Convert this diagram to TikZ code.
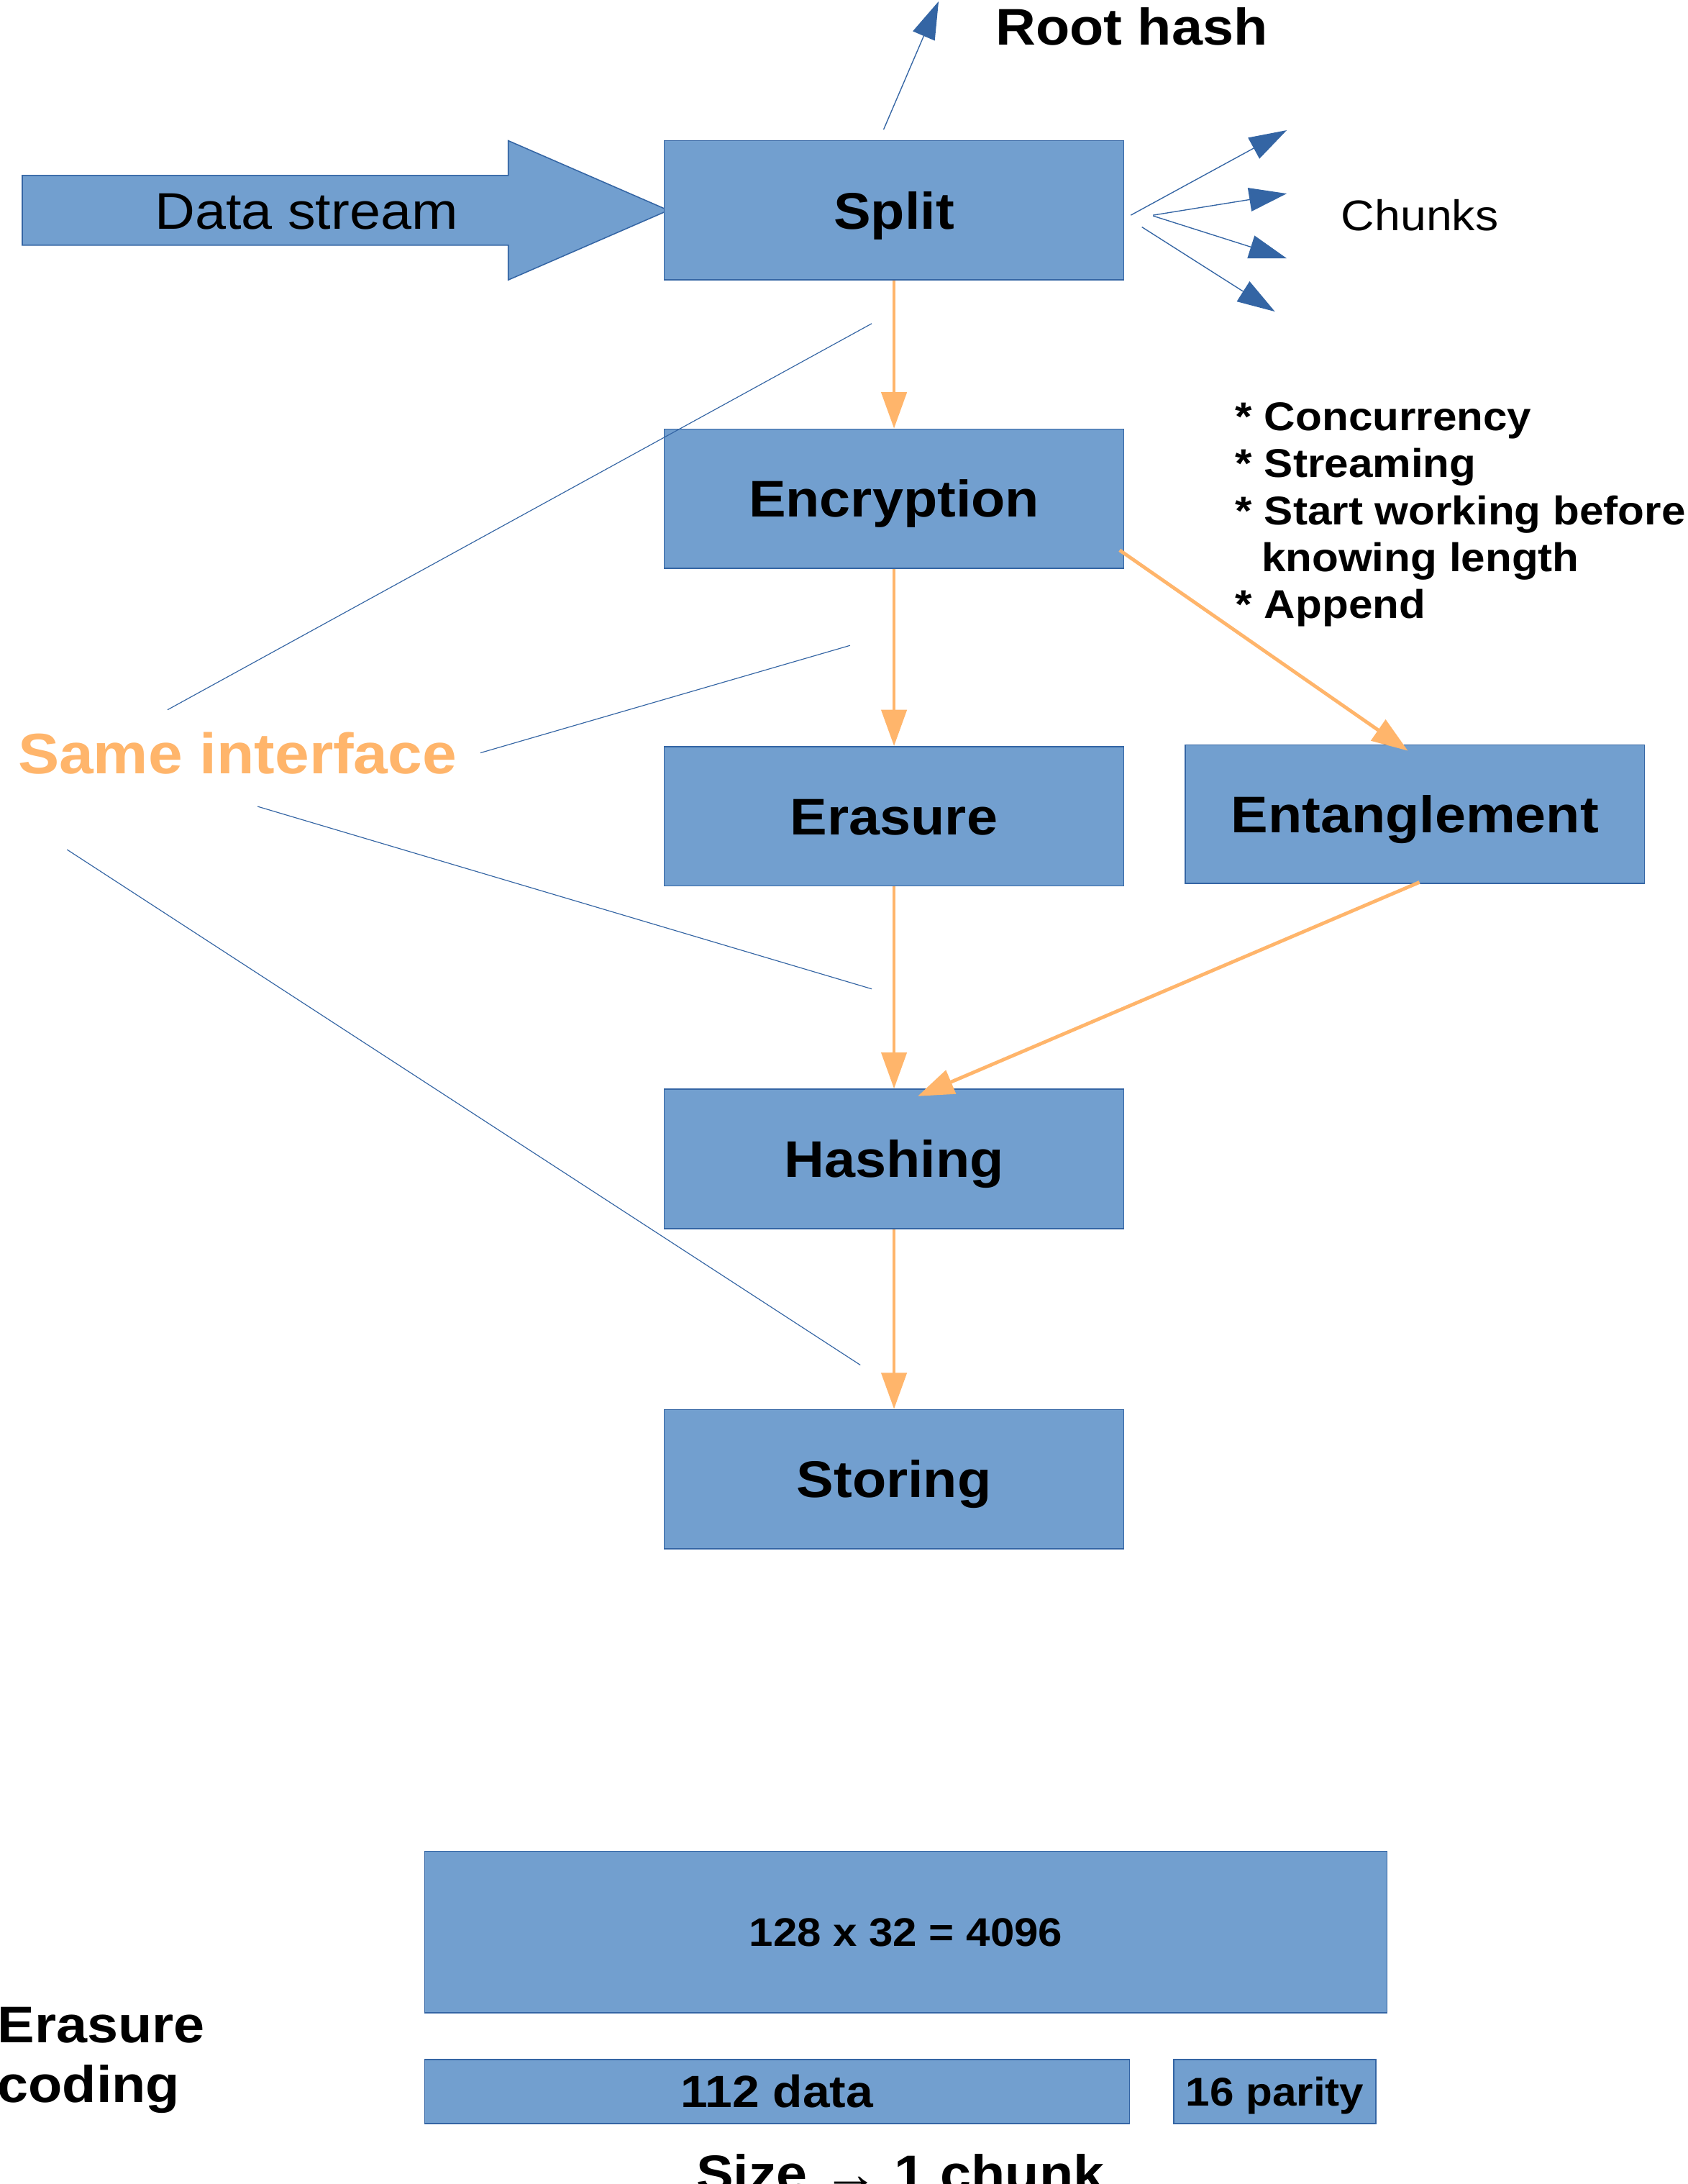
\documentclass[tikz,border=0pt]{standalone}
\usepackage{fontspec}
\setmainfont{Liberation Sans}[FakeStretch=1.08]
\usetikzlibrary{arrows.meta}
\definecolor{boxfill}{HTML}{729FCF}
\definecolor{boxline}{HTML}{3465A4}
\definecolor{orng}{HTML}{FFB56B}
\begin{document}
\begin{tikzpicture}[x=1pt,y=-1pt,
  stage/.style={draw=boxline, line width=0.8pt, fill=boxfill, minimum width=330pt,
    minimum height=100pt, inner sep=0pt, font=\bfseries\fontsize{37}{40}\selectfont,
    text height=26.5pt, text depth=0pt},
  ecbox/.style={draw=boxline, line width=0.8pt, fill=boxfill, inner sep=0pt, text depth=0pt},
  flow/.style={draw=orng, line width=2.5pt, -{Triangle[length=26pt,width=18pt]}},
  pointer/.style={draw=boxline, line width=0.7pt, -{Triangle[length=27pt,width=17pt]}},
  thin/.style={draw=boxline, line width=0.6pt}
]
\useasboundingbox[fill=white] (0,0) rectangle (1212,1568);

% data stream arrow
\draw[draw=boxline, fill=boxfill, line width=0.8pt]
  (16,126) -- (365,126) -- (365,101) -- (480,151) -- (365,201) -- (365,176) -- (16,176) -- cycle;
\node[inner sep=0pt, font=\fontsize{37}{40}\selectfont, text height=26.5pt, text depth=0pt]
  (ds) at (220,151) {Data stream};

% stages
\node[stage] (split) at (642,151) {Split};
\node[stage] (encryption) at (642,358) {Encryption};
\node[stage] (erasure) at (642,586) {Erasure};
\node[stage, minimum height=99.6pt] (entanglement) at (1016,584.5) {Entanglement};
\node[stage] (hashing) at (642,832) {Hashing};
\node[stage] (storing) at (642,1062) {Storing};

% root hash
\node[anchor=base, inner sep=0pt, font=\bfseries\fontsize{37}{40}\selectfont] (root) at (812.6,32.4) {Root hash};
\coordinate (rhs) at (634.5,93);
\coordinate (rht) at (674,1);
\draw[pointer] (rhs) -- (rht);

% chunks
\node[anchor=base west, inner sep=0pt, font=\fontsize{30.8}{34}\selectfont] (chunks) at (963,165.7) {Chunks};
\coordinate (c1s) at (812,154.5); \coordinate (c1t) at (924,93.5);
\coordinate (c2s) at (828,154.5); \coordinate (c2t) at (924,139);
\coordinate (c3s) at (828,155);   \coordinate (c3t) at (924,185.5);
\coordinate (c4s) at (820,163);   \coordinate (c4t) at (915.5,223.7);
\draw[pointer] (c1s) -- (c1t);
\draw[pointer] (c2s) -- (c2t);
\draw[pointer] (c3s) -- (c3t);
\draw[pointer] (c4s) -- (c4t);

% properties
\node[anchor=north west, inner sep=0pt, align=left, font=\bfseries\fontsize{28.8}{33.6}\selectfont]
  (props) at (887,289) {* Concurrency\\* Streaming\\* Start working before\\\hspace*{18.7pt}knowing length\\* Append};

% same interface
\node[anchor=base, inner sep=0pt, text=orng, font=\bfseries\fontsize{41}{45}\selectfont]
  (same) at (170.5,555.7) {Same interface};
\coordinate (s1a) at (120.3,509.6); \coordinate (s1b) at (626,232.3);
\coordinate (s2a) at (345,540.5);   \coordinate (s2b) at (610.4,463.4);
\coordinate (s3a) at (185,579);     \coordinate (s3b) at (626,710);
\coordinate (s4a) at (48.2,610);    \coordinate (s4b) at (617.8,980);
\draw[thin] (s1a) -- (s1b);
\draw[thin] (s2a) -- (s2b);
\draw[thin] (s3a) -- (s3b);
\draw[thin] (s4a) -- (s4b);

% flow arrows
\coordinate (encout) at (804,395);
\coordinate (entin) at (1011,539);
\coordinate (entout) at (1019.3,633.4);
\coordinate (hashin) at (659,787);
\draw[flow] (split.south) -- (encryption.north);
\draw[flow] (encryption.south) -- (erasure.north);
\draw[flow] (encout) -- (entin);
\draw[flow] (erasure.south) -- (hashing.north);
\draw[flow] (entout) -- (hashin);
\draw[flow] (hashing.south) -- (storing.north);

% erasure coding
\node[ecbox, minimum width=691pt, minimum height=116pt, font=\bfseries\fontsize{28.7}{32}\selectfont,
  text height=20.5pt] (total) at (650.5,1387) {128 x 32 = 4096};
\node[ecbox, minimum width=506pt, minimum height=46pt, font=\bfseries\fontsize{32.4}{36}\selectfont,
  text height=23.2pt] (data) at (558,1501.6) {112 data};
\node[ecbox, minimum width=145pt, minimum height=46pt, font=\bfseries\fontsize{28.8}{32}\selectfont,
  text height=20.6pt] (parity) at (915.5,1501.6) {16 parity};
\node[anchor=north west, inner sep=0pt, align=left, font=\bfseries\fontsize{37}{42.9}\selectfont]
  (ec) at (-2,1441) {Erasure\\coding};
\node[anchor=base, inner sep=0pt, font=\bfseries\fontsize{37}{40}\selectfont]
  (size) at (646.5,1573.5) {Size → 1 chunk};
\end{tikzpicture}
\end{document}
